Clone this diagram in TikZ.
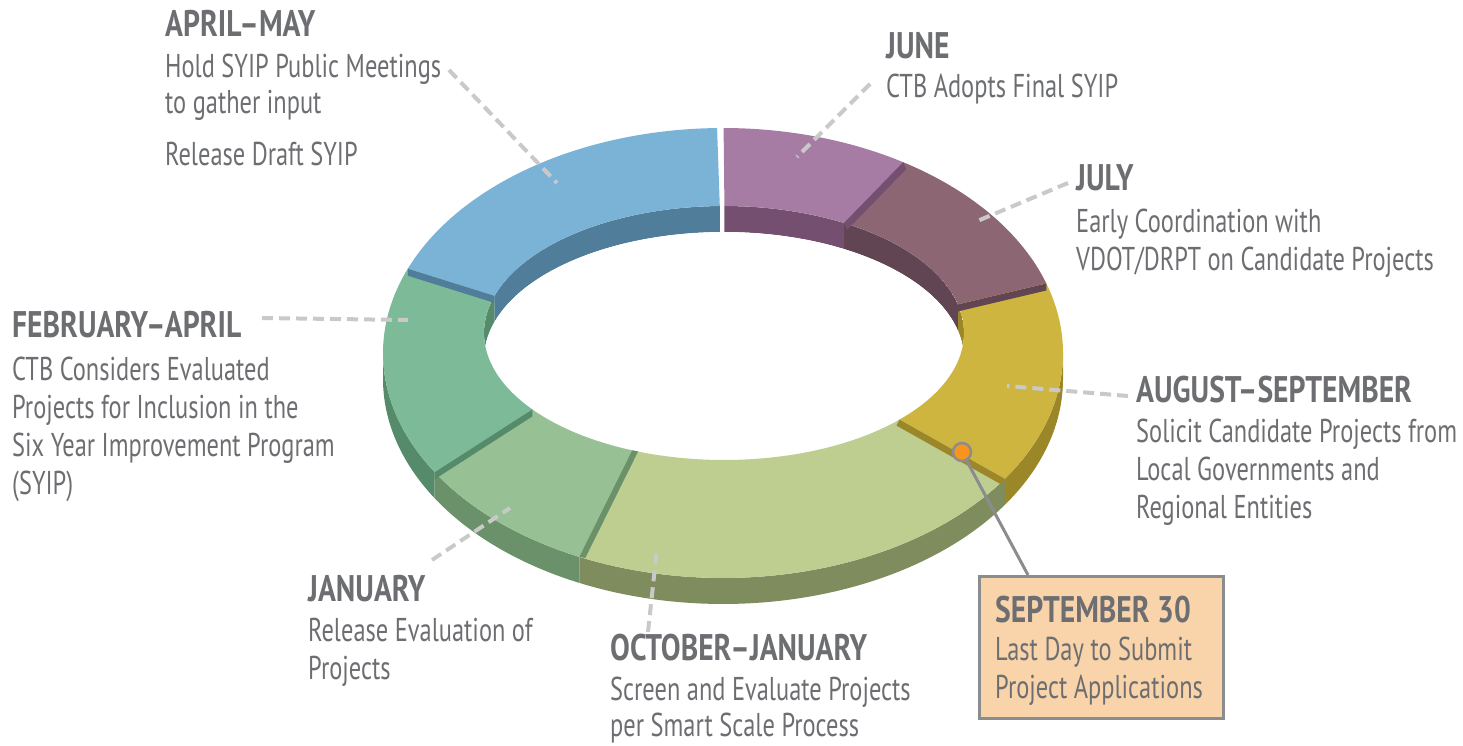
\documentclass[tikz,border=0pt]{standalone}
\usepackage{fontspec}
\setmainfont{PT Sans}[FakeStretch=0.74]
\newfontfamily\hdfont{PT Sans}[FakeStretch=0.80]
\definecolor{txt}{HTML}{6D6E71}
\definecolor{leadgray}{HTML}{C9C9C9}
\definecolor{boxgray}{HTML}{8B8C8E}
\definecolor{boxfill}{HTML}{F9D4AA}
\definecolor{dotorange}{HTML}{F7941D}
\definecolor{bluetop}{HTML}{7BB3D7}\definecolor{blueside}{HTML}{507D9A}
\definecolor{purtop}{HTML}{A67CA4}\definecolor{purside}{HTML}{744F6F}
\definecolor{jultop}{HTML}{8D6673}\definecolor{julside}{HTML}{624552}
\definecolor{yeltop}{HTML}{CEB540}\definecolor{yelside}{HTML}{9C8728}
\definecolor{lgtop}{HTML}{BECD90}\definecolor{lgside}{HTML}{7F8C5D}
\definecolor{jantop}{HTML}{97C194}\definecolor{janside}{HTML}{6A9169}
\definecolor{teatop}{HTML}{7DBA98}\definecolor{teaside}{HTML}{558A6B}
\pgfmathdeclarefunction{ox}{1}{\pgfmathparse{723+340*cos(#1)}}
\pgfmathdeclarefunction{oy}{1}{\pgfmathparse{353-225*sin(#1)}}
\pgfmathdeclarefunction{ix}{1}{\pgfmathparse{724+240*cos(#1)}}
\pgfmathdeclarefunction{iy}{1}{\pgfmathparse{333-127*sin(#1)}}
\newcommand\ringtop[5]{\fill[#5] plot[domain=#1:#2,samples=50] ({ox(\x)},{oy(\x)}) -- plot[domain=#4:#3,samples=50] ({ix(\x)},{iy(\x)}) -- cycle;}
\newcommand\ringouter[3]{\fill[#3] plot[domain=#1:#2,samples=50] ({ox(\x)},{oy(\x)}) -- plot[domain=#2:#1,samples=50] ({ox(\x)},{oy(\x)+26}) -- cycle;}
\newcommand\ringinner[3]{\fill[#3] plot[domain=#1:#2,samples=50] ({ix(\x)},{iy(\x)}) -- plot[domain=#2:#1,samples=50] ({ix(\x)},{iy(\x)+26}) -- cycle;}
\newcommand\ringband[5]{\fill[#5] ({ox(#1)},{oy(#1)}) -- ({ix(#2)},{iy(#2)}) -- ({ix(#2)+#3},{iy(#2)+#4}) -- ({ox(#1)+#3},{oy(#1)+#4}) -- cycle;}
\tikzset{
  hd/.style={anchor=base west, inner sep=0pt, text=txt, font=\hdfont\fontsize{37}{42}\selectfont\bfseries},
  bd/.style={anchor=base west, inner sep=0pt, text=txt, font=\fontsize{33}{38}\selectfont},
  lead/.style={draw=leadgray, line width=4pt, dash pattern=on 11pt off 6pt},
  pin/.style={draw=boxgray, line width=3pt},
}
\begin{document}
\begin{tikzpicture}[x=1pt,y=-1pt]
\useasboundingbox (0,0) rectangle (1463,746);
% outer walls (near side)
\ringouter{180}{212}{teaside}
\ringouter{212}{245}{janside}
\ringouter{245}{326}{lgside}
\ringouter{326}{360}{yelside}
% inner walls (far side) and hole
\begin{scope}
\clip plot[domain=0:360,samples=120] ({ix(\x)},{iy(\x)}) -- cycle;
\ringinner{-43}{13}{yelside}
\ringinner{13}{60}{julside}
\ringinner{60}{89.9}{purside}
\ringinner{91}{163}{blueside}
\ringinner{163}{217}{teaside}
\fill[white] plot[domain=0:360,samples=120] ({ix(\x)},{iy(\x)+26}) -- cycle;
\end{scope}
% top faces
\ringtop{91}{158}{91}{163}{bluetop}
\ringtop{58}{89.9}{60}{89.9}{purtop}
\ringtop{18}{58}{13}{60}{jultop}
\ringtop{-34}{18}{-43}{13}{yeltop}
\ringtop{-115}{-34}{-112.5}{-43}{lgtop}
\ringtop{-148}{-115}{-143}{-112.5}{jantop}
\ringtop{158}{212}{163}{217}{teatop}
% end-face bands
\ringband{58}{60}{3}{7}{purside}
\ringband{18}{13}{0}{7}{julside}
\ringband{-34}{-43}{-3}{6}{yelside}
\ringband{-115}{-112.5}{6}{1}{janside}
\ringband{212}{217}{0}{7}{teaside}
\ringband{158}{163}{0}{7}{blueside}
% leader lines
\coordinate (amA) at (449,70);   \coordinate (amB) at (557,183);
\coordinate (junA) at (870,84);  \coordinate (junB) at (797,157);
\coordinate (julA) at (1068,183);\coordinate (julB) at (975,222);
\coordinate (febA) at (262,318); \coordinate (febB) at (408,320);
\coordinate (augA) at (1128,396);\coordinate (augB) at (1007,386);
\coordinate (janA) at (432,560); \coordinate (janB) at (510,508);
\coordinate (octA) at (648,632); \coordinate (octB) at (657,548);
\draw[lead] (amA) -- (amB);
\draw[lead] (junA) -- (junB);
\draw[lead] (julA) -- (julB);
\draw[lead] (febA) -- (febB);
\draw[lead] (augA) -- (augB);
\draw[lead] (janA) -- (janB);
\draw[lead] (octA) -- (octB);
% September 30 box
\node[draw=boxgray, fill=boxfill, line width=3pt, anchor=north west, minimum width=244pt, minimum height=142pt, inner sep=0pt] (box) at (978,575) {};
\coordinate (boxtop) at (1028,575);
\node[circle, fill=dotorange, draw=boxgray, line width=2.5pt, minimum size=18pt, inner sep=0pt] (dot) at (962,452) {};
\draw[pin] (dot) -- (boxtop);
\node[hd] (s0) at (995,622) {SEPTEMBER 30};
\node[bd] (s1) at (995,660) {Last Day to Submit};
\node[bd] (s2) at (995,698) {Project Applications};
% texts
\node[hd] (a0) at (165,37) {APRIL–MAY};
\node[bd] (a1) at (165,78) {Hold SYIP Public Meetings};
\node[bd] (a2) at (165,114) {to gather input};
\node[bd] (a3) at (165,166) {Release Draft SYIP};
\node[hd] (j0) at (886,59) {JUNE};
\node[bd] (j1) at (886,98) {CTB Adopts Final SYIP};
\node[hd] (u0) at (1076,190) {JULY};
\node[bd] (u1) at (1076,232) {Early Coordination with};
\node[bd] (u2) at (1076,270) {VDOT/DRPT on Candidate Projects};
\node[hd] (g0) at (1136,402) {AUGUST–SEPTEMBER};
\node[bd] (g1) at (1136,442) {Solicit Candidate Projects from};
\node[bd] (g2) at (1136,480) {Local Governments and};
\node[bd] (g3) at (1136,518) {Regional Entities};
\node[hd] (f0) at (12,337) {FEBRUARY–APRIL};
\node[bd] (f1) at (12,380) {CTB Considers Evaluated};
\node[bd] (f2) at (12,418) {Projects for Inclusion in the};
\node[bd] (f3) at (12,456) {Six Year Improvement Program};
\node[bd] (f4) at (12,494) {(SYIP)};
\node[hd] (n0) at (308,601) {JANUARY};
\node[bd] (n1) at (308,641) {Release Evaluation of};
\node[bd] (n2) at (308,679) {Projects};
\node[hd] (o0) at (610,660) {OCTOBER–JANUARY};
\node[bd] (o1) at (610,700) {Screen and Evaluate Projects};
\node[bd] (o2) at (610,736) {per Smart Scale Process};
\end{tikzpicture}
\end{document}
